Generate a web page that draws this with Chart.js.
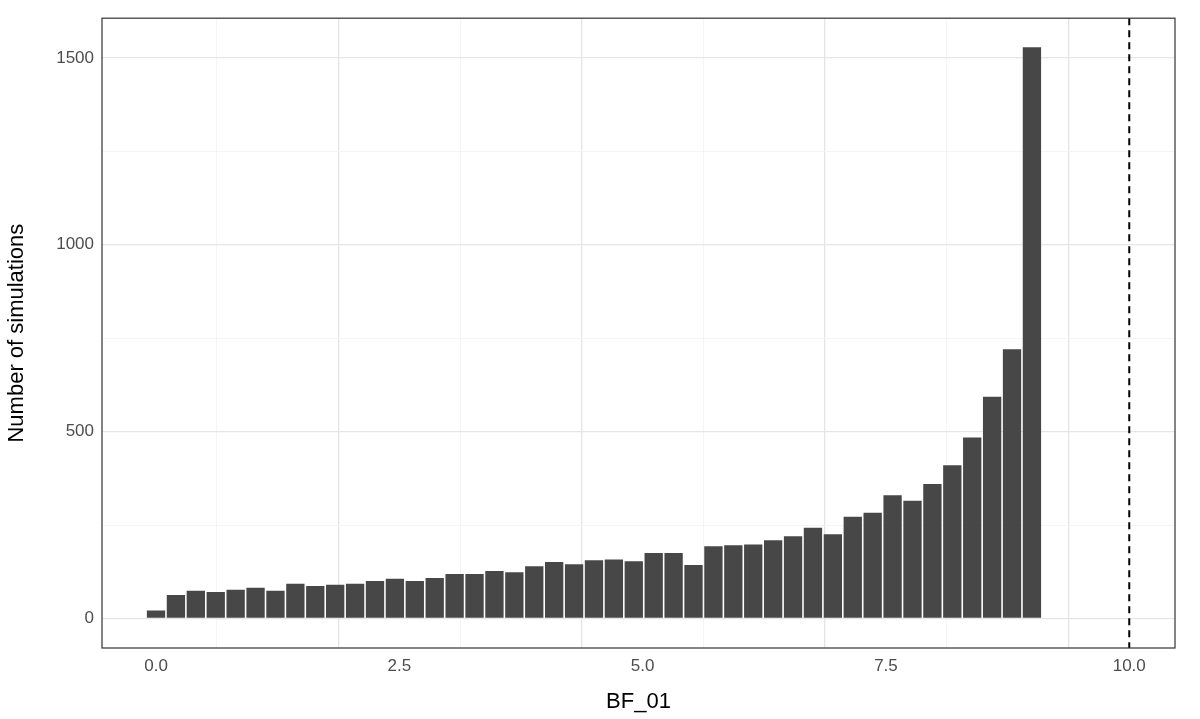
<!DOCTYPE html>
<html><head><meta charset="utf-8">
<script src="https://cdn.jsdelivr.net/npm/chart.js@4"></script>
<style>body{margin:0;background:#fff}#w{width:1200px;height:719px}</style>
</head><body><div id="w"><canvas id="c"></canvas></div>
<script>
const counts=[21,63,74,71,77,82,74,93,87,90,93,100,106,100,108,119,119,127,124,140,151,145,156,158,153,175,175,143,193,196,198,209,220,243,225,272,283,330,315,360,410,484,593,720,1528];
const binStep=9/44;
const xTicks=[0,1.25,2.5,3.75,5,6.25,7.5,8.75,10];
const xLabels={0:'0.0',2.5:'2.5',5:'5.0',7.5:'7.5',10:'10.0'};
const yTicks=[0,250,500,750,1000,1250,1500];
const refLine=10;
const pts=counts.map((v,i)=>({x:i*binStep,y:v}));
const deco={id:'deco',afterDatasetsDraw(ch){const {ctx,chartArea:a,scales:{x}}=ch;ctx.save();
 const px=x.getPixelForValue(refLine);ctx.strokeStyle='#000';ctx.lineWidth=2;ctx.setLineDash([7,5]);
 ctx.beginPath();ctx.moveTo(px,a.top);ctx.lineTo(px,a.bottom);ctx.stroke();ctx.setLineDash([]);
 ctx.strokeStyle='#333';ctx.lineWidth=1.2;ctx.strokeRect(a.left,a.top,a.right-a.left,a.bottom-a.top);ctx.restore();}};
new Chart(document.getElementById('c'),{type:'bar',
data:{datasets:[{data:pts,backgroundColor:'#474747',barPercentage:0.92,categoryPercentage:1,grouped:false}]},
options:{responsive:true,maintainAspectRatio:false,animation:false,
layout:{padding:{top:11,right:25,left:0,bottom:0}},
plugins:{legend:{display:false},tooltip:{enabled:false}},
scales:{
x:{type:'linear',min:-0.555,max:10.47,offset:false,
 afterBuildTicks:s=>{s.ticks=xTicks.map(v=>({value:v}));},
 afterFit:s=>{s.height=71;},
 grid:{drawTicks:false,color:c=>xLabels[c.tick&&c.tick.value]!==undefined?'#e5e5e5':'#f2f2f2',lineWidth:c=>xLabels[c.tick&&c.tick.value]!==undefined?1.3:0.8},
 border:{display:false},
 ticks:{autoSkip:false,maxRotation:0,padding:8,color:'#4d4d4d',font:{family:'Liberation Sans',size:17},callback:v=>xLabels[v]??''},
 title:{display:true,text:'BF_01',color:'#000',font:{family:'Liberation Sans',size:22},padding:{top:2}}},
y:{min:-79,max:1606,
 afterBuildTicks:s=>{s.ticks=yTicks.map(v=>({value:v}));},
 afterFit:s=>{s.width=102;},
 grid:{drawTicks:false,color:c=>(c.tick&&c.tick.value%500===0)?'#e5e5e5':'#f2f2f2',lineWidth:c=>(c.tick&&c.tick.value%500===0)?1.3:0.8},
 border:{display:false},
 ticks:{autoSkip:false,padding:8,color:'#4d4d4d',font:{family:'Liberation Sans',size:17},callback:v=>v%500===0?String(v):''},
 title:{display:true,text:'Number of simulations',color:'#000',font:{family:'Liberation Sans',size:22},padding:{bottom:4}}}}},
plugins:[deco]});
</script></body></html>
